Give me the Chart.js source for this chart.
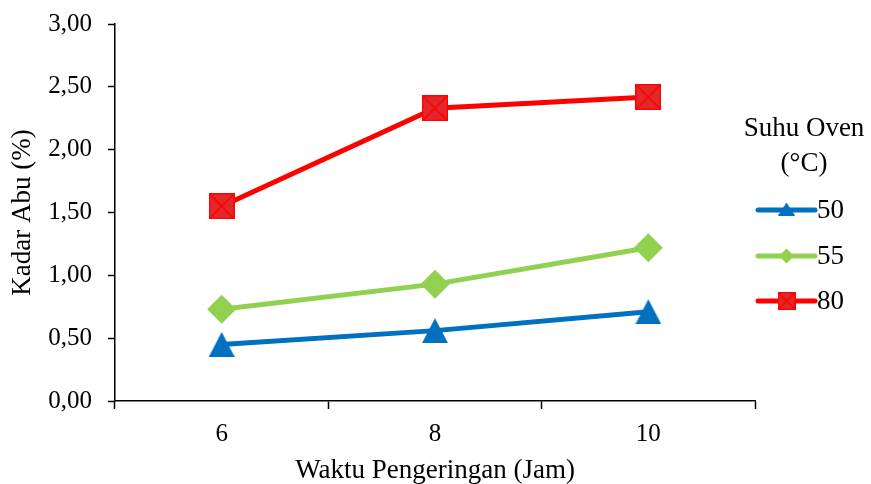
<!DOCTYPE html>
<html>
<head>
<meta charset="utf-8">
<script src="https://cdn.jsdelivr.net/npm/chart.js@4.4.1/dist/chart.umd.min.js"></script>
<style>
  html, body { margin: 0; padding: 0; background: #ffffff; }
  #wrap { width: 871px; height: 484px; position: relative; }
</style>
</head>
<body>
<div id="wrap"><canvas id="chart" width="871" height="484"></canvas></div>
<script>
// Drying time (hours) on the x axis
const waktu = ['6', '8', '10'];
// Ash content (%) per oven temperature
const suhu50 = [0.45, 0.56, 0.71];
const suhu55 = [0.73, 0.93, 1.22];
const suhu80 = [1.55, 2.33, 2.42];
const seriesLabels = ['50', '55', '80'];
const yTicks = [0, 0.5, 1, 1.5, 2, 2.5, 3];

const FONT = "'Liberation Serif', 'Times New Roman', serif";
const BLUE = '#0070c0', GREEN = '#92d050', RED = '#ff0000';

// Marker images: centred triangle and a square with a diagonal cross
function triangleMarker(w, h, color) {
  const c = document.createElement('canvas');
  c.width = w; c.height = h;
  const g = c.getContext('2d');
  g.fillStyle = color;
  g.beginPath();
  g.moveTo(w / 2, 0);
  g.lineTo(w, h);
  g.lineTo(0, h);
  g.closePath();
  g.fill();
  return c;
}
function crossSquareMarker(s, fill, stroke) {
  const c = document.createElement('canvas');
  c.width = s; c.height = s;
  const g = c.getContext('2d');
  g.fillStyle = fill;
  g.fillRect(0, 0, s, s);
  g.strokeStyle = stroke;
  g.lineWidth = 1.5;
  g.beginPath();
  g.moveTo(1, 1); g.lineTo(s - 1, s - 1);
  g.moveTo(s - 1, 1); g.lineTo(1, s - 1);
  g.stroke();
  g.strokeRect(0.5, 0.5, s - 1, s - 1);
  return c;
}

const triBig = triangleMarker(26, 25, BLUE);
const sqBig = crossSquareMarker(26, '#e4262a', RED);
const triSmall = triangleMarker(17, 13, BLUE);
const sqSmall = crossSquareMarker(18, '#e4262a', RED);

// Legend on the right, drawn from the dataset colours
const sideLegend = {
  id: 'sideLegend',
  afterDraw(chart) {
    const ctx = chart.ctx;
    ctx.save();
    ctx.fillStyle = '#000';
    ctx.font = '27px ' + FONT;
    ctx.textAlign = 'center';
    ctx.textBaseline = 'middle';
    ctx.fillText('Suhu Oven', 804, 129);
    ctx.fillText('(°C)', 804, 164);
    const rows = [210, 256, 301];
    const x0 = 758, x1 = 815, xm = (x0 + x1) / 2;
    chart.data.datasets.slice(0, 3).forEach((ds, i) => {
      const y = rows[i];
      ctx.strokeStyle = ds.borderColor;
      ctx.lineWidth = 5;
      ctx.lineCap = 'round';
      ctx.beginPath();
      ctx.moveTo(x0, y); ctx.lineTo(x1, y);
      ctx.stroke();
      if (i === 0) ctx.drawImage(triSmall, xm - 8.5, y - 7.5);
      if (i === 1) {
        ctx.fillStyle = GREEN;
        ctx.beginPath();
        ctx.moveTo(xm - 7.5, y); ctx.lineTo(xm, y - 7.5);
        ctx.lineTo(xm + 7.5, y); ctx.lineTo(xm, y + 7.5);
        ctx.closePath(); ctx.fill();
      }
      if (i === 2) ctx.drawImage(sqSmall, xm - 9, y - 9);
      ctx.fillStyle = '#000';
      ctx.textAlign = 'left';
      ctx.fillText(ds.label, 817, y + 1);
    });
    ctx.restore();
  }
};

new Chart(document.getElementById('chart'), {
  type: 'line',
  data: {
    labels: waktu,
    datasets: [
      { label: seriesLabels[0], data: suhu50, borderColor: BLUE, backgroundColor: BLUE,
        borderWidth: 5, pointStyle: triBig, pointRadius: 13 },
      { label: seriesLabels[1], data: suhu55, borderColor: GREEN, backgroundColor: GREEN,
        borderWidth: 5, pointStyle: 'rectRot', pointRadius: 14.5, pointBorderWidth: 0 },
      { label: seriesLabels[2], data: suhu80, borderColor: RED, backgroundColor: RED,
        borderWidth: 5, pointStyle: sqBig, pointRadius: 13 }
    ]
  },
  options: {
    responsive: false,
    animation: false,
    events: [],
    layout: { padding: { top: 24, right: 116, bottom: 0, left: 0 } },
    plugins: { legend: { display: false }, tooltip: { enabled: false } },
    elements: { line: { tension: 0 } },
    scales: {
      x: {
        type: 'category',
        offset: true,
        grid: { offset: true, drawOnChartArea: false, drawTicks: true, tickLength: 8, tickColor: '#000', tickWidth: 1.5 },
        border: { color: '#000', width: 1.5 },
        ticks: { color: '#000', font: { family: FONT, size: 25 }, padding: 10 },
        title: { display: true, text: 'Waktu Pengeringan (Jam)', color: '#000',
                 font: { family: FONT, size: 27, lineHeight: 1.0 }, padding: { top: 0, bottom: 0 } },
        afterFit(scale) { scale.height = 83; scale.paddingLeft = 0; scale.paddingRight = 0; }
      },
      y: {
        min: 0, max: 3,
        afterBuildTicks(scale) { scale.ticks = yTicks.map(v => ({ value: v })); },
        grid: { drawOnChartArea: false, drawTicks: true, tickLength: 7, tickColor: '#000', tickWidth: 1.5 },
        border: { color: '#000', width: 1.5 },
        ticks: { color: '#000', font: { family: FONT, size: 25 }, padding: 16,
                 callback: v => v.toFixed(2).replace('.', ',') },
        title: { display: true, text: 'Kadar Abu (%)', color: '#000',
                 font: { family: FONT, size: 27 }, padding: { top: 7, bottom: 0 } },
        afterFit(scale) { scale.width = 115; scale.paddingTop = 0; scale.paddingBottom = 0; }
      }
    }
  },
  plugins: [sideLegend]
});
</script>
</body>
</html>
